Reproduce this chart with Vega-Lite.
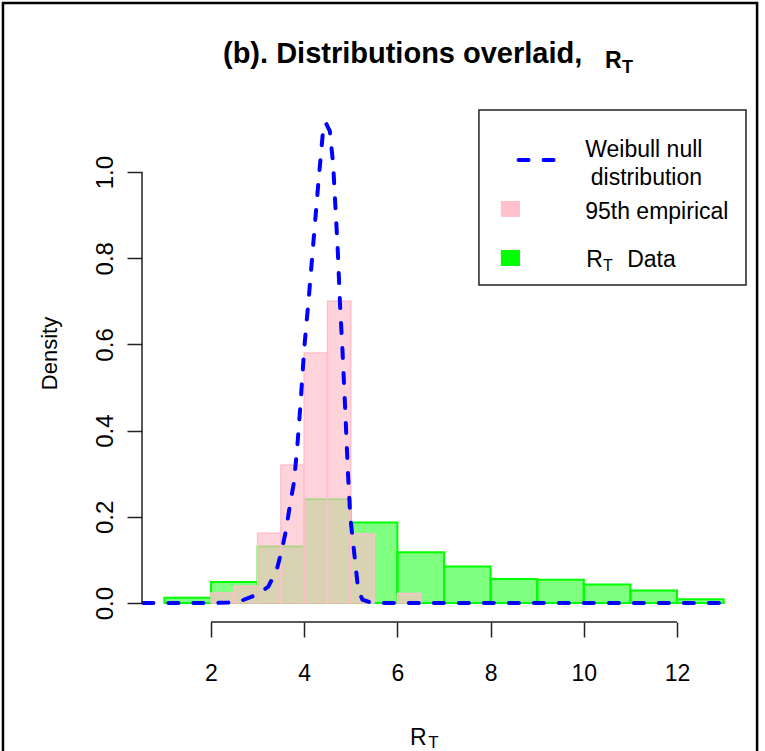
{
  "$schema": "https://vega.github.io/schema/vega-lite/v6.json",
  "width": 604,
  "height": 512,
  "autosize": {"type": "none"},
  "padding": {"left": 142, "top": 110, "right": 19, "bottom": 129},
  "background": "white",
  "config": {"view": {"stroke": null}, "font": "Liberation Sans"},
  "datasets": {
    "one": [{}],
    "rt": [
      {"lo": 1, "hi": 2, "density": 0.012},
      {"lo": 2, "hi": 3, "density": 0.049},
      {"lo": 3, "hi": 4, "density": 0.131},
      {"lo": 4, "hi": 5, "density": 0.241},
      {"lo": 5, "hi": 6, "density": 0.187},
      {"lo": 6, "hi": 7, "density": 0.118},
      {"lo": 7, "hi": 8, "density": 0.085},
      {"lo": 8, "hi": 9, "density": 0.056},
      {"lo": 9, "hi": 10, "density": 0.054},
      {"lo": 10, "hi": 11, "density": 0.043},
      {"lo": 11, "hi": 12, "density": 0.029},
      {"lo": 12, "hi": 13, "density": 0.0085}
    ],
    "emp": [
      {"lo": 2.0, "hi": 2.5, "density": 0.023},
      {"lo": 2.5, "hi": 3.0, "density": 0.039},
      {"lo": 3.0, "hi": 3.5, "density": 0.162},
      {"lo": 3.5, "hi": 4.0, "density": 0.32},
      {"lo": 4.0, "hi": 4.5, "density": 0.58},
      {"lo": 4.5, "hi": 5.0, "density": 0.70},
      {"lo": 5.0, "hi": 5.5, "density": 0.16},
      {"lo": 6.0, "hi": 6.5, "density": 0.022}
    ],
    "weib": [
      {"x": 0.55, "density": 0},
      {"x": 1.0, "density": 0},
      {"x": 1.5, "density": 0},
      {"x": 2.0, "density": 0},
      {"x": 2.37, "density": 0.001},
      {"x": 2.69, "density": 0.007},
      {"x": 2.98, "density": 0.019},
      {"x": 3.23, "density": 0.038},
      {"x": 3.41, "density": 0.077},
      {"x": 3.52, "density": 0.123},
      {"x": 3.61, "density": 0.169},
      {"x": 3.69, "density": 0.224},
      {"x": 3.78, "density": 0.28},
      {"x": 3.85, "density": 0.36},
      {"x": 3.92, "density": 0.46},
      {"x": 4.0, "density": 0.59},
      {"x": 4.1, "density": 0.71},
      {"x": 4.2, "density": 0.84},
      {"x": 4.3, "density": 0.97},
      {"x": 4.4, "density": 1.09},
      {"x": 4.46, "density": 1.115},
      {"x": 4.55, "density": 1.095},
      {"x": 4.62, "density": 1.02},
      {"x": 4.67, "density": 0.92},
      {"x": 4.72, "density": 0.82},
      {"x": 4.77, "density": 0.69},
      {"x": 4.82, "density": 0.59},
      {"x": 4.88, "density": 0.45},
      {"x": 4.94, "density": 0.30},
      {"x": 4.99, "density": 0.20},
      {"x": 5.05, "density": 0.14},
      {"x": 5.11, "density": 0.08},
      {"x": 5.16, "density": 0.03},
      {"x": 5.25, "density": 0.008},
      {"x": 5.4, "density": 0.002},
      {"x": 5.6, "density": 0},
      {"x": 6, "density": 0},
      {"x": 7, "density": 0},
      {"x": 8, "density": 0},
      {"x": 9, "density": 0},
      {"x": 10, "density": 0},
      {"x": 11, "density": 0},
      {"x": 12, "density": 0},
      {"x": 13, "density": 0}
    ]
  },
  "layer": [
    {
      "data": {"name": "rt"},
      "mark": {"type": "rect", "fill": "#00ff00", "fillOpacity": 0.5, "stroke": "#00ff00", "strokeWidth": 2},
      "encoding": {
        "x": {
          "field": "lo", "type": "quantitative",
          "scale": {"domain": [0.52, 13.48], "nice": false, "zero": false},
          "axis": {
            "values": [2, 4, 6, 8, 10, 12], "domain": false, "grid": false,
            "tickSize": 15, "tickWidth": 1.5, "tickColor": "#222",
            "labelFontSize": 23, "labelFont": "Liberation Sans", "labelColor": "black",
            "labelBaseline": "alphabetic", "labelPadding": 43, "labelFlush": false, "labelOverlap": false,
            "title": null
          }
        },
        "x2": {"field": "hi"},
        "y": {
          "field": "density", "type": "quantitative",
          "scale": {"domain": [-0.044, 1.144], "nice": false, "zero": false},
          "axis": {
            "values": [0, 0.2, 0.4, 0.6, 0.8, 1.0], "format": ".1f", "domain": false, "grid": false,
            "tickSize": 15, "tickWidth": 1.5, "tickColor": "#222",
            "labelFontSize": 24, "labelFont": "Liberation Sans", "labelColor": "black",
            "labelAngle": -90, "labelAlign": "center", "labelBaseline": "alphabetic", "labelPadding": 15,
            "labelFlush": false, "labelOverlap": false,
            "title": "Density", "titleFontSize": 22, "titleFont": "Liberation Sans", "titleFontWeight": "normal",
            "titleColor": "black", "titleAngle": -90, "titleAlign": "center", "titleBaseline": "alphabetic",
            "titleX": -86, "titleY": 243
          }
        },
        "y2": {"datum": 0}
      }
    },
    {
      "data": {"name": "emp"},
      "mark": {"type": "rect", "fill": "#ffc0cb", "fillOpacity": 0.7, "stroke": "#ffc0cb", "strokeWidth": 1.5},
      "encoding": {
        "x": {"field": "lo", "type": "quantitative"},
        "x2": {"field": "hi"},
        "y": {"field": "density", "type": "quantitative"},
        "y2": {"datum": 0}
      }
    },
    {
      "data": {"name": "weib"},
      "mark": {"type": "line", "color": "#0000ff", "strokeWidth": 4, "strokeDash": [10, 15], "strokeCap": "round", "strokeJoin": "round"},
      "encoding": {
        "x": {"field": "x", "type": "quantitative"},
        "y": {"field": "density", "type": "quantitative"}
      }
    },
    {
      "data": {"name": "one"},
      "mark": {"type": "rule", "color": "#222", "strokeWidth": 1.5},
      "encoding": {"x": {"datum": 0.52}, "y": {"datum": 0}, "y2": {"datum": 1.0}}
    },
    {
      "data": {"name": "one"},
      "mark": {"type": "rule", "color": "#222", "strokeWidth": 1.5},
      "encoding": {"x": {"datum": 2}, "x2": {"datum": 12}, "y": {"datum": -0.044}}
    },
    {
      "data": {"name": "one"},
      "mark": {"type": "rect", "fill": null, "stroke": "#222", "strokeWidth": 1.5},
      "encoding": {"x": {"datum": 7.75}, "x2": {"datum": 13.48}, "y": {"datum": 0.738}, "y2": {"datum": 1.144}}
    },
    {
      "data": {"name": "one"},
      "mark": {"type": "rule", "color": "#0000ff", "strokeWidth": 4, "strokeDash": [10, 15], "strokeCap": "round"},
      "encoding": {"x": {"datum": 8.6}, "x2": {"datum": 9.4}, "y": {"datum": 1.028}}
    },
    {
      "data": {"name": "one"},
      "mark": {"type": "rect", "fill": "#ffc0cb"},
      "encoding": {"x": {"datum": 8.22}, "x2": {"datum": 8.63}, "y": {"datum": 0.896}, "y2": {"datum": 0.933}}
    },
    {
      "data": {"name": "one"},
      "mark": {"type": "rect", "fill": "#00ff00"},
      "encoding": {"x": {"datum": 8.22}, "x2": {"datum": 8.63}, "y": {"datum": 0.782}, "y2": {"datum": 0.819}}
    },
    {
      "data": {"name": "one"},
      "mark": {"type": "text", "text": "Weibull null", "align": "left", "baseline": "alphabetic", "fontSize": 23, "font": "Liberation Sans", "color": "black"},
      "encoding": {"x": {"datum": 10.03}, "y": {"datum": 1.035}}
    },
    {
      "data": {"name": "one"},
      "mark": {"type": "text", "text": "distribution", "align": "left", "baseline": "alphabetic", "fontSize": 23, "font": "Liberation Sans", "color": "black"},
      "encoding": {"x": {"datum": 10.15}, "y": {"datum": 0.970}}
    },
    {
      "data": {"name": "one"},
      "mark": {"type": "text", "text": "95th empirical", "align": "left", "baseline": "alphabetic", "fontSize": 23, "font": "Liberation Sans", "color": "black"},
      "encoding": {"x": {"datum": 10.03}, "y": {"datum": 0.891}}
    },
    {
      "data": {"name": "one"},
      "mark": {"type": "text", "text": "R", "align": "left", "baseline": "alphabetic", "fontSize": 23, "font": "Liberation Sans", "color": "black"},
      "encoding": {"x": {"datum": 10.05}, "y": {"datum": 0.780}}
    },
    {
      "data": {"name": "one"},
      "mark": {"type": "text", "text": "T", "align": "left", "baseline": "alphabetic", "fontSize": 16, "font": "Liberation Sans", "color": "black"},
      "encoding": {"x": {"datum": 10.41}, "y": {"datum": 0.771}}
    },
    {
      "data": {"name": "one"},
      "mark": {"type": "text", "text": "Data", "align": "left", "baseline": "alphabetic", "fontSize": 23, "font": "Liberation Sans", "color": "black"},
      "encoding": {"x": {"datum": 10.93}, "y": {"datum": 0.780}}
    },
    {
      "data": {"name": "one"},
      "mark": {"type": "text", "text": "(b). Distributions overlaid,", "align": "left", "baseline": "alphabetic", "fontSize": 29, "fontWeight": "bold", "font": "Liberation Sans", "color": "black"},
      "encoding": {"x": {"datum": 2.258}, "y": {"datum": 1.253}}
    },
    {
      "data": {"name": "one"},
      "mark": {"type": "text", "text": "R", "align": "left", "baseline": "alphabetic", "fontSize": 23, "fontWeight": "bold", "font": "Liberation Sans", "color": "black"},
      "encoding": {"x": {"datum": 10.456}, "y": {"datum": 1.241}}
    },
    {
      "data": {"name": "one"},
      "mark": {"type": "text", "text": "T", "align": "left", "baseline": "alphabetic", "fontSize": 18, "fontWeight": "bold", "font": "Liberation Sans", "color": "black"},
      "encoding": {"x": {"datum": 10.82}, "y": {"datum": 1.230}}
    },
    {
      "data": {"name": "one"},
      "mark": {"type": "text", "text": "R", "align": "left", "baseline": "alphabetic", "fontSize": 23, "font": "Liberation Sans", "color": "black"},
      "encoding": {"x": {"datum": 6.27}, "y": {"datum": -0.329}}
    },
    {
      "data": {"name": "one"},
      "mark": {"type": "text", "text": "T", "align": "left", "baseline": "alphabetic", "fontSize": 17, "font": "Liberation Sans", "color": "black"},
      "encoding": {"x": {"datum": 6.66}, "y": {"datum": -0.336}}
    },
    {
      "data": {"name": "one"},
      "mark": {"type": "rect", "fill": null, "stroke": "black", "strokeWidth": 2.5},
      "encoding": {"x": {"datum": -2.463}, "x2": {"datum": 13.718}, "y": {"datum": 1.392}, "y2": {"datum": -0.364}}
    }
  ]
}
